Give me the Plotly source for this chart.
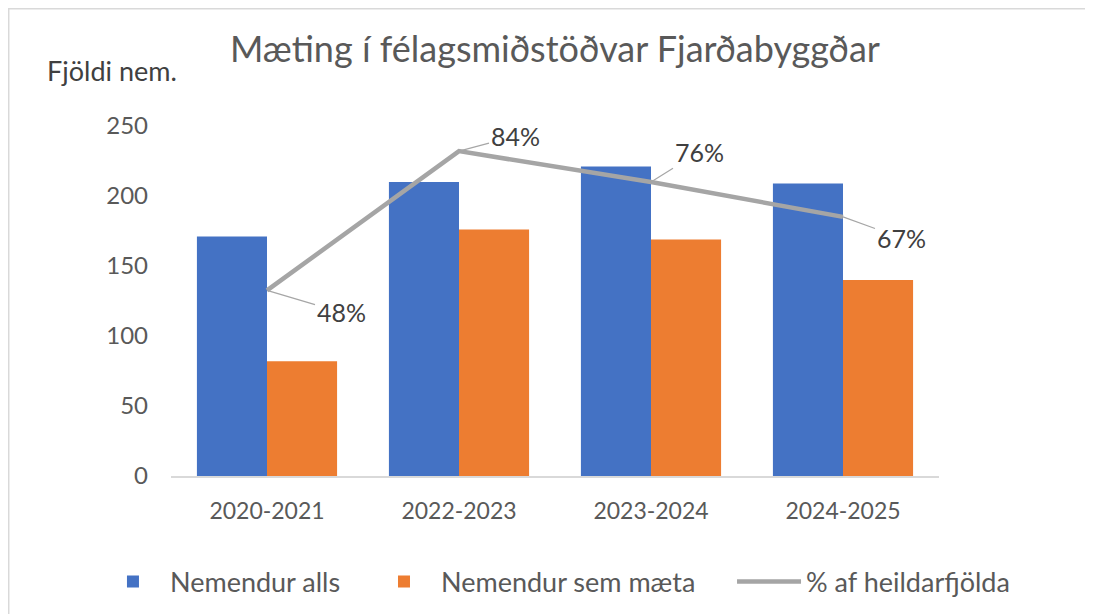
import plotly.graph_objects as go

categories = ["2020-2021", "2022-2023", "2023-2024", "2024-2025"]
nemendur_alls = [171, 210, 221, 209]
nemendur_maeta = [82, 176, 169, 140]
pct_af_heild = [48, 84, 76, 67]
y_ticks = [0, 50, 100, 150, 200, 250]

FONT = "Lato"
TXT = "#595959"

fig = go.Figure()
fig.add_trace(go.Bar(x=categories, y=nemendur_alls, name="Nemendur alls", showlegend=True,
                     marker=dict(color="#4472C4", line=dict(width=0)), legend="legend"))
fig.add_trace(go.Bar(x=categories, y=nemendur_maeta, name="Nemendur sem mæta", showlegend=True,
                     marker=dict(color="#ED7D31", line=dict(width=0)), legend="legend2"))
fig.add_trace(go.Scatter(x=categories, y=pct_af_heild, name="% af heildarfjölda",
                         mode="lines", yaxis="y2", legend="legend3", showlegend=True,
                         line=dict(color="#A5A5A5", width=4.5)))

# data labels with leader lines (offsets in pixels)
offsets = [(74, 22), (56, -15), (48, -30), (58, 21)]
for c, p, (ax, ay) in zip(categories, pct_af_heild, offsets):
    fig.add_annotation(x=c, y=p, xref="x", yref="y2", text=f"{p}%",
                       showarrow=True, arrowhead=0, arrowwidth=1.2,
                       arrowcolor="#A6A6A6", ax=ax, ay=ay,
                       font=dict(family=FONT, size=25, color="#404040"))

fig.add_annotation(text="Fjöldi nem.", xref="paper", yref="paper",
                   x=-0.077, y=1.16, showarrow=False, xanchor="center", yanchor="middle",
                   font=dict(family=FONT, size=27, color="#404040"))

fig.add_shape(type="rect", xref="paper", yref="paper",
              x0=-0.2113, x1=1.25, y0=-0.5, y1=1.335,
              line=dict(color="#D9D9D9", width=1.5), layer="below")

leg_common = dict(orientation="h", xanchor="left", y=-0.303, yanchor="middle",
                  font=dict(size=27, color=TXT), itemwidth=64, bgcolor="rgba(0,0,0,0)")

fig.update_layout(
    width=1085, height=606, showlegend=True,
    margin=dict(l=163, r=154, t=118, b=138, autoexpand=False),
    paper_bgcolor="white", plot_bgcolor="white",
    barmode="group", bargap=0.27, bargroupgap=0,
    title=dict(text="Mæting í félagsmiðstöðvar Fjarðabyggðar",
               x=0.5041, xanchor="center", y=0.932, yanchor="middle",
               font=dict(family=FONT, size=36, color=TXT)),
    font=dict(family=FONT, color=TXT),
    xaxis=dict(showline=True, linecolor="#D9D9D9", linewidth=1.5,
               tickfont=dict(size=23, color=TXT), ticks="", showgrid=False,
               ticklabelstandoff=14),
    yaxis=dict(range=[0, 250], tickvals=y_ticks, showgrid=False, zeroline=False,
               showline=False, ticks="", ticklabelstandoff=22,
               tickfont=dict(size=24, color=TXT)),
    yaxis2=dict(range=[0, 90.5], overlaying="y", side="right", visible=False),
    legend=dict(x=-0.0977, **leg_common),
    legend2=dict(x=0.2552, **leg_common),
    legend3=dict(x=0.7305, **leg_common),
)

fig.write_html("out.html")
